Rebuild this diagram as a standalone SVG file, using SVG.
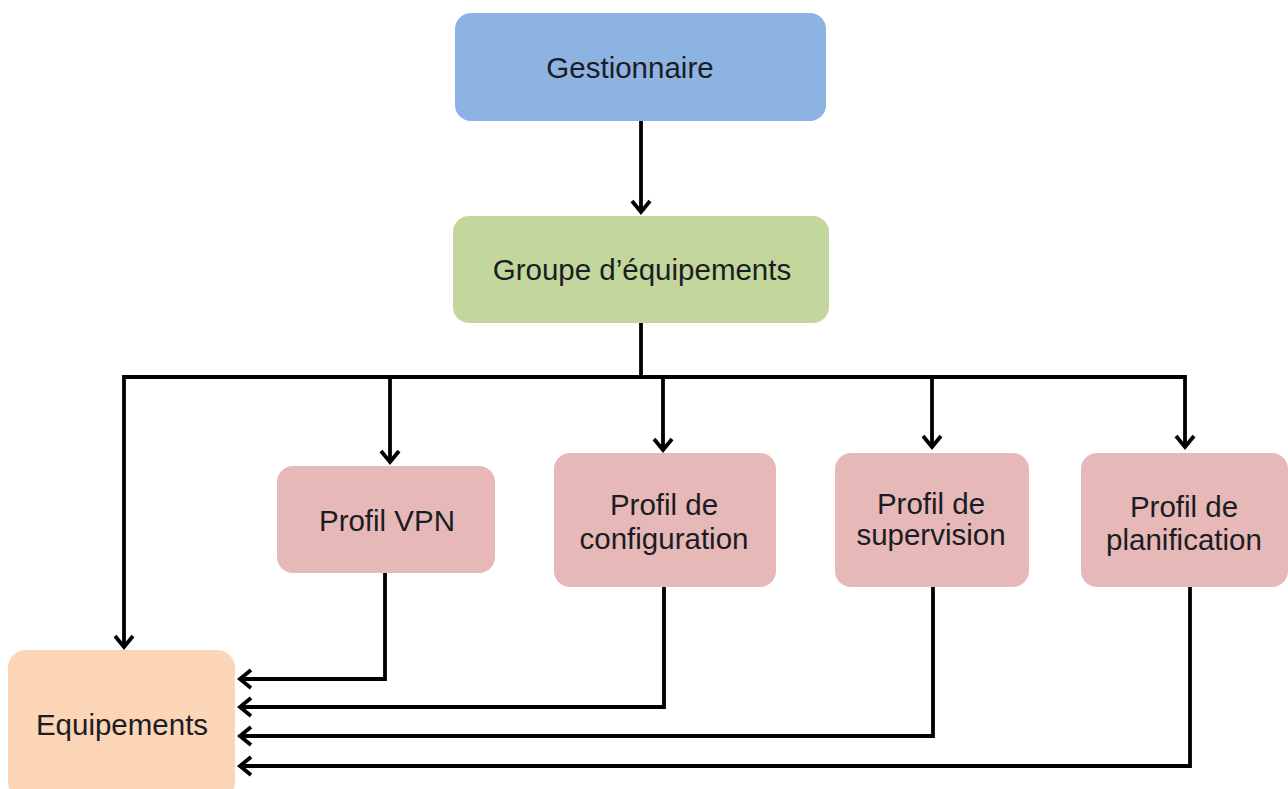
<svg xmlns="http://www.w3.org/2000/svg" width="1288" height="789" viewBox="0 0 1288 789">
<defs>
<marker id="arr" markerUnits="userSpaceOnUse" markerWidth="26" markerHeight="26" viewBox="-15 -13 18 26" refX="0" refY="0" orient="auto">
<path d="M-11,-9 L0,0 L-11,9" fill="none" stroke="#000" stroke-width="3.8" stroke-linejoin="miter"/>
</marker>
</defs>
<style>
.lbl{font-family:"Liberation Sans",Arial,sans-serif;font-size:29.5px;fill:#1c1c24;text-anchor:middle}
.con{fill:none;stroke:#000;stroke-width:3.8}
</style>
<rect width="1288" height="789" fill="#fff"/>
<g id="connectors">
<path class="con" d="M641,121 V212" marker-end="url(#arr)"/>
<path class="con" d="M641,323 V377"/>
<path class="con" d="M1185,377 H124 V647" marker-end="url(#arr)"/>
<path class="con" d="M390,377 V462" marker-end="url(#arr)"/>
<path class="con" d="M663,377 V450" marker-end="url(#arr)"/>
<path class="con" d="M932,377 V447" marker-end="url(#arr)"/>
<path class="con" d="M1185,375 V447" marker-end="url(#arr)"/>
<path class="con" d="M385,573 V679 H240" marker-end="url(#arr)"/>
<path class="con" d="M664,587 V707 H240" marker-end="url(#arr)"/>
<path class="con" d="M933,587 V736 H240" marker-end="url(#arr)"/>
<path class="con" d="M1190,587 V766 H240" marker-end="url(#arr)"/>
</g>
<g id="gestionnaire">
<rect x="455" y="13" width="371" height="108" rx="16" fill="#8db3e2"/>
<text class="lbl" x="630" y="78">Gestionnaire</text>
</g>
<g id="groupe">
<rect x="453" y="216" width="376" height="107" rx="16" fill="#c3d69b"/>
<text class="lbl" x="642" y="280">Groupe d’équipements</text>
</g>
<g id="profil-vpn">
<rect x="277" y="466" width="218" height="107" rx="16" fill="#e6b8b7"/>
<text class="lbl" x="387" y="531">Profil VPN</text>
</g>
<g id="profil-configuration">
<rect x="554" y="453" width="222" height="134" rx="16" fill="#e6b8b7"/>
<text class="lbl" x="664" y="515">Profil de</text>
<text class="lbl" x="664" y="549">configuration</text>
</g>
<g id="profil-supervision">
<rect x="835" y="453" width="194" height="134" rx="16" fill="#e6b8b7"/>
<text class="lbl" x="931" y="514">Profil de</text>
<text class="lbl" x="931" y="545">supervision</text>
</g>
<g id="profil-planification">
<rect x="1081" y="453" width="207" height="134" rx="16" fill="#e6b8b7"/>
<text class="lbl" x="1184" y="517">Profil de</text>
<text class="lbl" x="1184" y="550">planification</text>
</g>
<g id="equipements">
<rect x="8" y="650" width="227" height="150" rx="18" fill="#fbd5b5"/>
<text class="lbl" x="122" y="735">Equipements</text>
</g>
</svg>
